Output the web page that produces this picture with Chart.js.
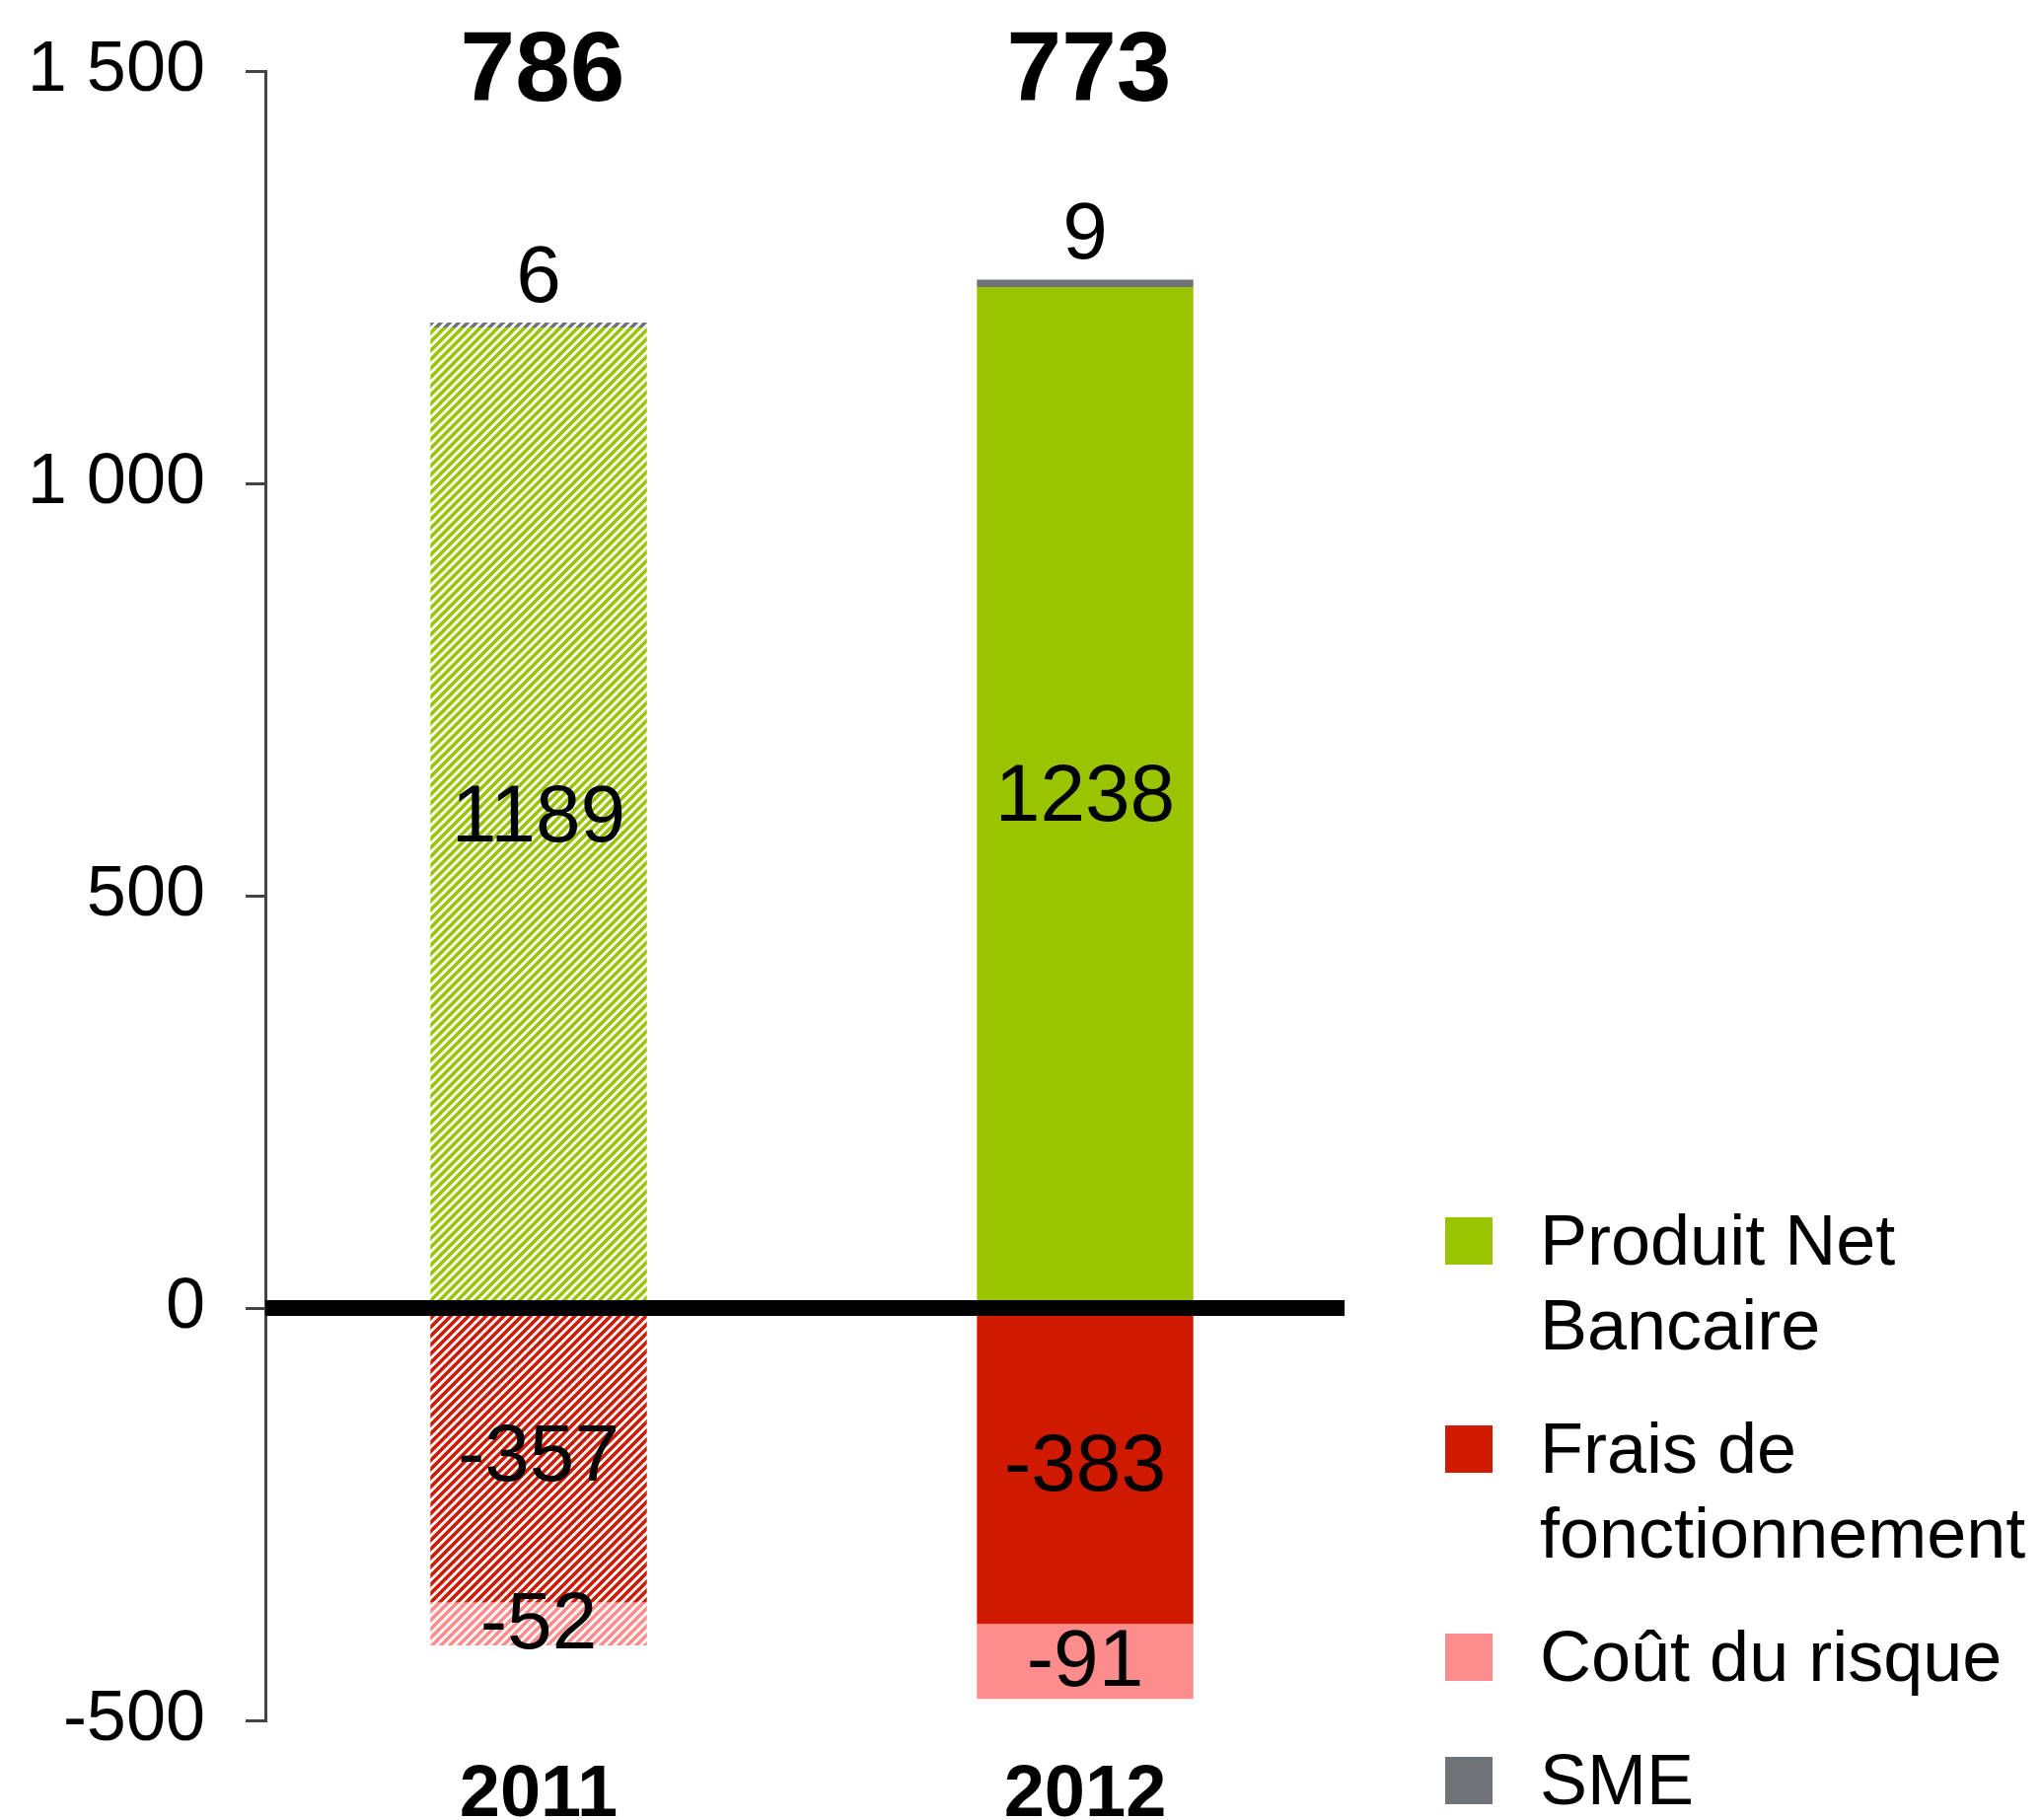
<!DOCTYPE html>
<html>
<head>
  <meta charset="utf-8">
  <title>PNB 2011 / 2012</title>
  <script src="https://cdn.jsdelivr.net/npm/chart.js@4"></script>
  <style>
    body { margin: 0; background: #fff; }
  </style>
</head>
<body>
  <canvas id="chart" width="2069" height="1845"></canvas>
  <script>
    // values
    var years = ['2011', '2012'];
    var pnb = [1189, 1238];
    var frais = [-357, -383];
    var risque = [-52, -91];
    var sme = [6, 9];
    var totals = [786, 773];
    var yTicks = [-500, 0, 500, 1000, 1500];

    var FONT = '"Liberation Sans", Arial, sans-serif';
    var GREEN = '#9bc400', RED = '#d01a00', PINK = '#fd8c8c', GREY = '#6f7378';

    // diagonal hatch used for the 2011 bars
    function hatch(color) {
      var s = 9;
      var c = document.createElement('canvas');
      c.width = s; c.height = s;
      var g = c.getContext('2d');
      g.fillStyle = '#fff';
      g.fillRect(0, 0, s, s);
      g.strokeStyle = color;
      g.lineWidth = 3.6;
      g.beginPath();
      g.moveTo(-2, 2); g.lineTo(2, -2);
      g.moveTo(0, s); g.lineTo(s, 0);
      g.moveTo(s - 2, s + 2); g.lineTo(s + 2, s - 2);
      g.stroke();
      return g.createPattern(c, 'repeat');
    }

    var legendItems = [
      { lines: ['Produit Net', 'Bancaire'], color: GREEN },
      { lines: ['Frais de', 'fonctionnement'], color: RED },
      { lines: ['Coût du risque'], color: PINK },
      { lines: ['SME'], color: GREY }
    ];

    var labelsPlugin = {
      id: 'labels',
      afterDatasetsDraw: function (chart) {
        var ctx = chart.ctx;
        var area = chart.chartArea;
        var y0 = chart.scales.y.getPixelForValue(0);

        // thick zero line over the bars
        ctx.save();
        ctx.fillStyle = '#000';
        ctx.fillRect(area.left, y0 - 8, area.right - area.left - 14, 16);

        ctx.textAlign = 'center';
        ctx.textBaseline = 'middle';
        ctx.fillStyle = '#000';
        chart.data.datasets.forEach(function (ds, i) {
          var meta = chart.getDatasetMeta(i);
          meta.data.forEach(function (bar, j) {
            ctx.font = '82px ' + FONT;
            if (ds.label === 'SME') {
              ctx.fillText(ds.data[j], bar.x, bar.y - 44);
            } else {
              ctx.fillText(ds.data[j], bar.x, (bar.y + bar.base) / 2 + 2);
            }
          });
        });

        // totals above each column
        var meta0 = chart.getDatasetMeta(0);
        ctx.font = 'bold 100px ' + FONT;
        meta0.data.forEach(function (bar, j) {
          ctx.fillText(totals[j], bar.x + 4, area.top + 2);
        });

        // legend, bottom right
        var bx = area.right + 88, tx = area.right + 184;
        var y = 1262, lh = 86, gap = 39;
        ctx.textAlign = 'left';
        ctx.font = '72px ' + FONT;
        legendItems.forEach(function (it) {
          ctx.fillStyle = it.color;
          ctx.fillRect(bx, y - 28, 48, 48);
          ctx.fillStyle = '#000';
          it.lines.forEach(function (ln, k) {
            ctx.fillText(ln, tx, y + k * lh);
          });
          y += it.lines.length * lh + gap;
        });
        ctx.restore();
      }
    };

    var ctx = document.getElementById('chart');
    var chart = new Chart(ctx, {
      type: 'bar',
      data: {
        labels: years,
        datasets: [
          { label: 'Produit Net Bancaire', data: pnb, backgroundColor: [hatch(GREEN), GREEN] },
          { label: 'SME', data: sme, backgroundColor: [hatch(GREY), GREY] },
          { label: 'Frais de fonctionnement', data: frais, backgroundColor: [hatch(RED), RED] },
          { label: 'Coût du risque', data: risque, backgroundColor: [hatch(PINK), PINK] }
        ]
      },
      plugins: [labelsPlugin],
      options: {
        responsive: false,
        animation: false,
        layout: { padding: { left: 0, right: 692, top: 72, bottom: 0 } },
        datasets: { bar: { categoryPercentage: 0.4, barPercentage: 0.99, borderWidth: 0 } },
        plugins: { legend: { display: false }, tooltip: { enabled: false } },
        scales: {
          x: {
            stacked: true,
            grid: { display: false },
            border: { display: false },
            ticks: { color: '#000', padding: 24, font: { family: FONT, size: 74, weight: 'bold' } },
            afterFit: function (s) { s.height = 101; }
          },
          y: {
            stacked: true,
            min: -500,
            max: 1500,
            afterBuildTicks: function (s) { s.ticks = yTicks.map(function (v) { return { value: v }; }); },
            afterFit: function (s) { s.width = 269; s.paddingTop = 0; s.paddingBottom = 0; },
            grid: { drawOnChartArea: false, drawTicks: true, tickLength: 20, color: '#444', lineWidth: 3 },
            border: { display: true, color: '#444', width: 3 },
            ticks: {
              color: '#000',
              padding: 41,
              font: { family: FONT, size: 72 },
              callback: function (v) { return String(v).replace(/\B(?=(\d{3})+(?!\d))/g, ' '); }
            }
          }
        }
      }
    });
  </script>
</body>
</html>
